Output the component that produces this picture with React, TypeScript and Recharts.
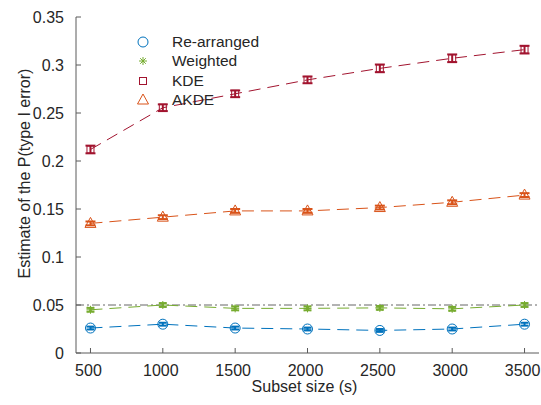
import React from 'react';
import {
  LineChart,
  Line,
  XAxis,
  YAxis,
  ErrorBar,
  ReferenceLine,
  Label,
} from 'recharts';

// subset sizes (s)
const subsetSizes = [500, 1000, 1500, 2000, 2500, 3000, 3500];

const rearranged = [0.026, 0.030, 0.026, 0.025, 0.0235, 0.025, 0.030];
const rearrangedErr = [0.0015, 0.0015, 0.0015, 0.0015, 0.0015, 0.0015, 0.0015];
const weighted = [0.045, 0.050, 0.0465, 0.0465, 0.047, 0.046, 0.050];
const weightedErr = [0.002, 0.002, 0.002, 0.002, 0.002, 0.002, 0.002];
const kde = [0.212, 0.2555, 0.270, 0.2845, 0.2965, 0.307, 0.316];
const kdeErr = [0.004, 0.0035, 0.0035, 0.0035, 0.004, 0.004, 0.004];
const akde = [0.135, 0.1415, 0.148, 0.148, 0.1515, 0.157, 0.1645];
const akdeErr = [0.002, 0.002, 0.002, 0.002, 0.002, 0.002, 0.002];

const xTicks = [500, 1000, 1500, 2000, 2500, 3000, 3500];
const yTicks = [0, 0.05, 0.1, 0.15, 0.2, 0.25, 0.3, 0.35];
const nominalLevel = 0.05;

const data = subsetSizes.map((s, i) => ({
  size: s,
  rearranged: rearranged[i],
  rearrangedErr: rearrangedErr[i],
  weighted: weighted[i],
  weightedErr: weightedErr[i],
  kde: kde[i],
  kdeErr: kdeErr[i],
  akde: akde[i],
  akdeErr: akdeErr[i],
}));

const BLUE = '#0072BD';
const GREEN = '#77AC30';
const RED = '#A2142F';
const ORANGE = '#D95319';
const AXIS = '#5a5a5a';
const TEXT = '#262626';
const FONT = 'Arial, "Liberation Sans", Helvetica, sans-serif';

type Shape = 'circle' | 'star' | 'square' | 'triangle';

const Marker = ({ shape, color, x, y }: { shape: Shape; color: string; x: number; y: number }) => {
  if (shape === 'circle') {
    return <circle cx={x} cy={y} r={5} fill="none" stroke={color} strokeWidth={1} />;
  }
  if (shape === 'square') {
    return <rect x={x - 3.5} y={y - 3.5} width={7} height={7} fill="none" stroke={color} strokeWidth={1} />;
  }
  if (shape === 'triangle') {
    return (
      <polygon
        points={`${x},${y - 6} ${x - 5.5},${y + 4} ${x + 5.5},${y + 4}`}
        fill="none"
        stroke={color}
        strokeWidth={1}
      />
    );
  }
  const r = 4;
  const d = r * 0.7;
  return (
    <g stroke={color} strokeWidth={1}>
      <line x1={x - r} y1={y} x2={x + r} y2={y} />
      <line x1={x} y1={y - r} x2={x} y2={y + r} />
      <line x1={x - d} y1={y - d} x2={x + d} y2={y + d} />
      <line x1={x - d} y1={y + d} x2={x + d} y2={y - d} />
    </g>
  );
};

const makeDot = (shape: Shape, color: string) => (props: any) => {
  const { cx, cy, index } = props;
  if (cx == null || cy == null) return <g key={index} />;
  return (
    <g key={index}>
      <Marker shape={shape} color={color} x={cx} y={cy} />
    </g>
  );
};

// inward ticks, MATLAB style
const BottomTick = (props: any) => {
  const { x, y, payload } = props;
  return (
    <g>
      <line x1={x} y1={y} x2={x} y2={y - 5} stroke={AXIS} />
      <text x={x - 2} y={y + 23} textAnchor="middle" fill={TEXT} fontSize={16} fontFamily={FONT}>
        {payload.value}
      </text>
    </g>
  );
};

const TopTick = (props: any) => {
  const { x, y } = props;
  return <line x1={x} y1={y} x2={x} y2={y + 5} stroke={AXIS} />;
};

const LeftTick = (props: any) => {
  const { x, y, payload } = props;
  return (
    <g>
      <line x1={x} y1={y} x2={x + 5} y2={y} stroke={AXIS} />
      <text x={x - 12} y={y + 5.5} textAnchor="end" fill={TEXT} fontSize={16} fontFamily={FONT}>
        {payload.value}
      </text>
    </g>
  );
};

const RightTick = (props: any) => {
  const { x, y } = props;
  return <line x1={x} y1={y} x2={x - 5} y2={y} stroke={AXIS} />;
};

const legendItems: { name: string; shape: Shape; color: string }[] = [
  { name: 'Re-arranged', shape: 'circle', color: BLUE },
  { name: 'Weighted', shape: 'star', color: GREEN },
  { name: 'KDE', shape: 'square', color: RED },
  { name: 'AKDE', shape: 'triangle', color: ORANGE },
];

export default function App() {
  return (
    <div style={{ position: 'absolute', left: 0, top: 0, width: 541, height: 405, background: '#fff' }}>
      <LineChart
        width={541}
        height={405}
        data={data}
        margin={{ top: 17, right: 2, bottom: 0, left: 0 }}
      >
        <XAxis
          dataKey="size"
          type="number"
          domain={[400, 3600]}
          ticks={xTicks}
          height={52}
          axisLine={{ stroke: AXIS }}
          tickLine={false}
          tickSize={0}
          tickMargin={0}
          tick={<BottomTick />}
          interval={0}
        >
          <Label
            content={(p: any) => {
              const vb = p.viewBox;
              return (
                <text
                  x={vb.x + vb.width / 2 - 3}
                  y={vb.y + 39}
                  textAnchor="middle"
                  fill={TEXT}
                  fontSize={16}
                  fontFamily={FONT}
                >
                  Subset size (s)
                </text>
              );
            }}
          />
        </XAxis>
        <XAxis
          xAxisId="top"
          orientation="top"
          type="number"
          domain={[400, 3600]}
          ticks={xTicks}
          height={0}
          axisLine={{ stroke: AXIS }}
          tickLine={false}
          tickSize={0}
          tickMargin={0}
          tick={<TopTick />}
          interval={0}
        />
        <YAxis
          type="number"
          domain={[0, 0.35]}
          ticks={yTicks}
          width={76}
          axisLine={{ stroke: AXIS }}
          tickLine={false}
          tickSize={0}
          tickMargin={0}
          tick={<LeftTick />}
          interval={0}
        >
          <Label
            content={(p: any) => {
              const vb = p.viewBox;
              const cx = vb.x + 29.5;
              const cy = vb.y + vb.height / 2 - 11.5;
              return (
                <text
                  x={cx}
                  y={cy}
                  transform={`rotate(-90, ${cx}, ${cy})`}
                  textAnchor="middle"
                  fill={TEXT}
                  fontSize={16}
                  fontFamily={FONT}
                >
                  Estimate of the P(type I error)
                </text>
              );
            }}
          />
        </YAxis>
        <YAxis
          yAxisId="right"
          orientation="right"
          type="number"
          domain={[0, 0.35]}
          ticks={yTicks}
          width={0}
          axisLine={{ stroke: '#808080', strokeWidth: 2 }}
          tickLine={false}
          tickSize={0}
          tickMargin={0}
          tick={<RightTick />}
          interval={0}
        />

        <ReferenceLine y={nominalLevel} stroke="#666" strokeWidth={1} strokeDasharray="8 3 2 3" />

        <Line
          dataKey="rearranged"
          type="linear"
          stroke={BLUE}
          strokeWidth={1}
          strokeDasharray="12 7"
          dot={makeDot('circle', BLUE)}
          activeDot={false}
          isAnimationActive={false}
        >
          <ErrorBar dataKey="rearrangedErr" direction="y" width={4} stroke={BLUE} strokeWidth={2} />
        </Line>
        <Line
          dataKey="weighted"
          type="linear"
          stroke={GREEN}
          strokeWidth={1}
          strokeDasharray="12 7"
          dot={makeDot('star', GREEN)}
          activeDot={false}
          isAnimationActive={false}
        >
          <ErrorBar dataKey="weightedErr" direction="y" width={4} stroke={GREEN} strokeWidth={2} />
        </Line>
        <Line
          dataKey="kde"
          type="linear"
          stroke={RED}
          strokeWidth={1}
          strokeDasharray="12 7"
          dot={makeDot('square', RED)}
          activeDot={false}
          isAnimationActive={false}
        >
          <ErrorBar dataKey="kdeErr" direction="y" width={5} stroke={RED} strokeWidth={2} />
        </Line>
        <Line
          dataKey="akde"
          type="linear"
          stroke={ORANGE}
          strokeWidth={1}
          strokeDasharray="12 7"
          dot={makeDot('triangle', ORANGE)}
          activeDot={false}
          isAnimationActive={false}
        >
          <ErrorBar dataKey="akdeErr" direction="y" width={5} stroke={ORANGE} strokeWidth={2} />
        </Line>
      </LineChart>

      <div style={{ position: 'absolute', left: 133, top: 32, fontFamily: FONT, fontSize: 15.5, color: TEXT }}>
        {legendItems.map((it) => (
          <div key={it.name} style={{ display: 'flex', alignItems: 'center', height: 19.3 }}>
            <svg width={20} height={19} style={{ display: 'block' }}>
              <Marker shape={it.shape} color={it.color} x={10} y={10} />
            </svg>
            <span style={{ marginLeft: 19, lineHeight: '19px' }}>{it.name}</span>
          </div>
        ))}
      </div>
    </div>
  );
}
